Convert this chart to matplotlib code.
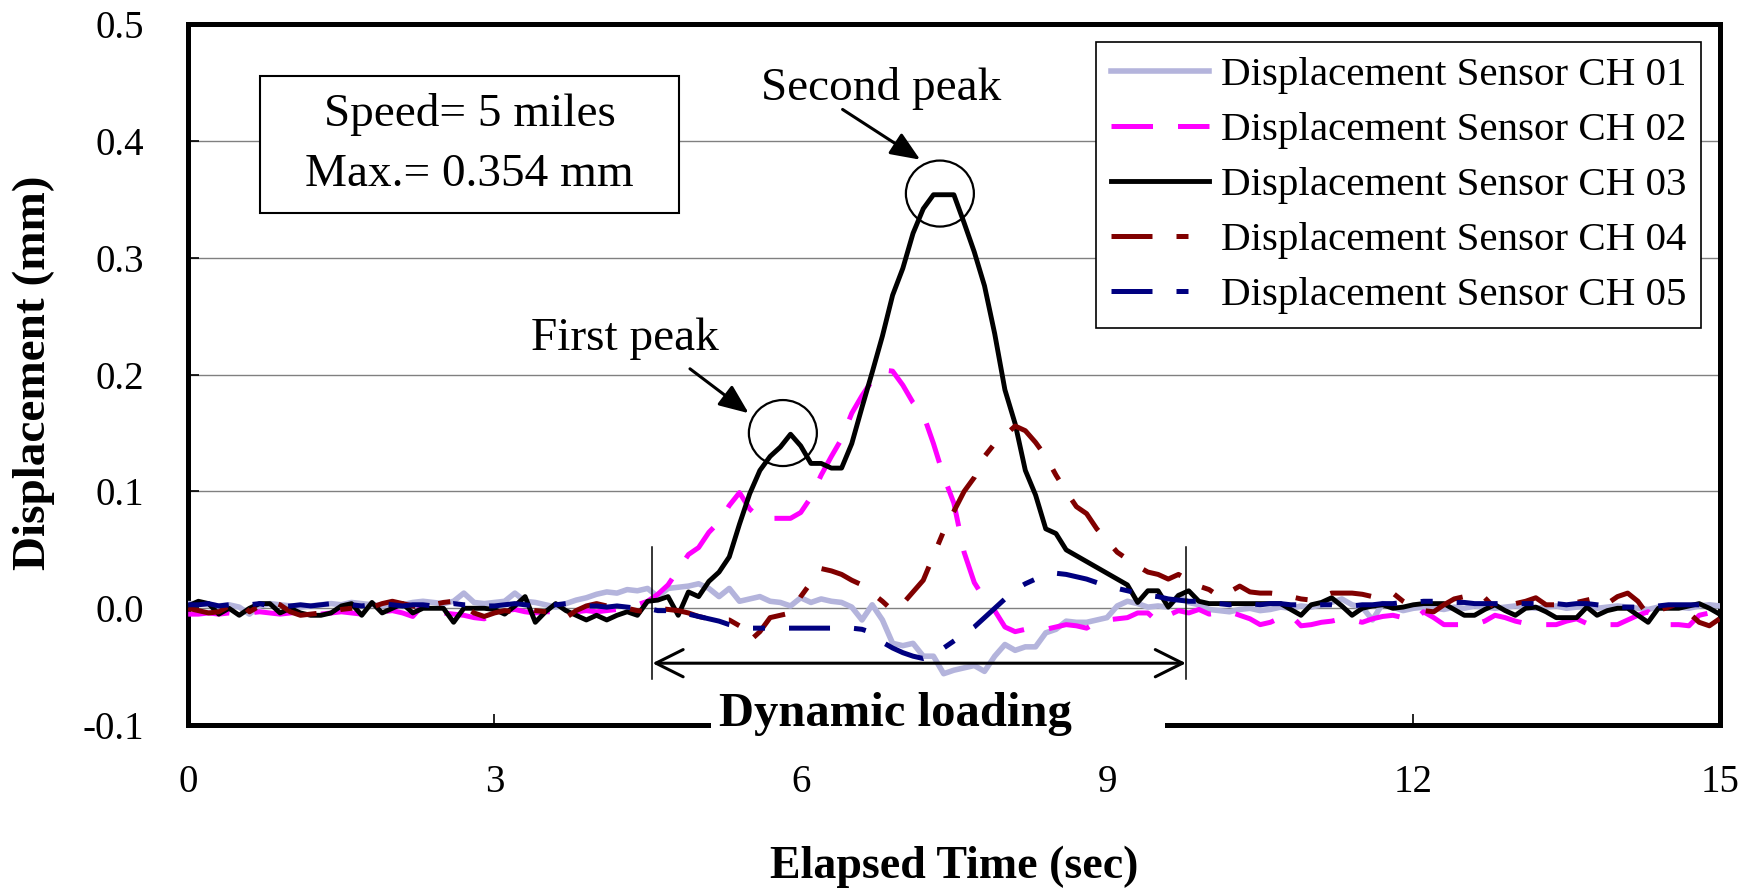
import matplotlib
matplotlib.use("Agg")
import matplotlib.pyplot as plt
import numpy as np
from matplotlib.patches import Rectangle, Ellipse

plt.rcParams["font.family"] = ["Liberation Serif", "DejaVu Serif"]

# ---- data (displacement in mm, sampled every 0.1 s from t = 0 to 15 s) ----
dt = 0.1

ch01 = [
    0.004, 0.004, 0.003, 0.002, 0.003, 0.001, -0.005, 0.002, 0.004, 0.003,
    0.002, 0.001, 0.002, 0.003, 0.004, 0.003, 0.005, 0.004, 0.003, 0.002,
    0.004, 0.003, 0.005, 0.006, 0.005, 0.004, 0.006, 0.013, 0.005, 0.004,
    0.005, 0.006, 0.013, 0.006, 0.005, 0.003, 0.001, 0.004, 0.007, 0.009,
    0.012, 0.014, 0.013, 0.016, 0.015, 0.017, 0.010, 0.017, 0.018, 0.019,
    0.021, 0.017, 0.010, 0.017, 0.006, 0.008, 0.010, 0.006, 0.005, 0.002,
    0.009, 0.005, 0.008, 0.006, 0.005, 0.001, -0.010, 0.003, -0.010, -0.030,
    -0.032, -0.030, -0.041, -0.041, -0.056, -0.053, -0.051, -0.049, -0.054, -0.041,
    -0.031, -0.036, -0.033, -0.033, -0.021, -0.018, -0.011, -0.012, -0.012, -0.010,
    -0.008, 0.002, 0.006, 0.004, 0.001, 0.002, 0.001, 0.011, 0.005, 0.003,
    -0.001, -0.002, -0.003, -0.001, 0.000, -0.002, -0.001, 0.001, 0.000, 0.002,
    0.001, 0.003, 0.005, 0.008, 0.003, 0.001, -0.010, 0.004, 0.001, -0.002,
    0.000, 0.001, 0.000, -0.001, 0.001, 0.000, 0.002, 0.001, 0.000, 0.001,
    0.002, 0.001, 0.000, 0.001, 0.002, 0.000, 0.001, 0.002, 0.000, 0.001,
    0.002, 0.001, 0.000, -0.001, 0.001, 0.002, 0.001, 0.000, 0.002, 0.003,
    0.002,
]

ch02 = [
    -0.005, -0.005, -0.004, -0.005, -0.004, -0.005, -0.004, -0.003, -0.004, -0.005,
    -0.004, -0.003, -0.004, -0.005, -0.004, -0.003, -0.004, -0.005, -0.004, -0.003,
    -0.002, -0.004, -0.007, 0.003, -0.003, -0.004, -0.005, -0.006, -0.008, -0.009,
    -0.004, -0.002, -0.001, -0.003, -0.004, -0.003, -0.003, -0.004, -0.003, -0.002,
    -0.003, -0.002, -0.001, 0.000, 0.003, 0.006, 0.012, 0.020, 0.033, 0.046,
    0.052, 0.065, 0.074, 0.088, 0.099, 0.085, 0.077, 0.077, 0.077, 0.077,
    0.082, 0.095, 0.114, 0.130, 0.145, 0.167, 0.182, 0.195, 0.204, 0.203,
    0.191, 0.176, 0.166, 0.141, 0.113, 0.090, 0.048, 0.022, 0.008, -0.002,
    -0.016, -0.020, -0.018, -0.018, -0.018, -0.016, -0.014, -0.015, -0.017, -0.012,
    -0.010, -0.009, -0.008, -0.004, -0.004, -0.012, -0.006, -0.002, -0.004, -0.001,
    -0.005, -0.004, -0.003, -0.006, -0.009, -0.014, -0.012, -0.008, -0.006, -0.015,
    -0.014, -0.012, -0.011, -0.009, -0.010, -0.012, -0.009, -0.007, -0.006, -0.008,
    -0.011, -0.003, -0.008, -0.014, -0.014, -0.014, -0.014, -0.011, -0.006, -0.008,
    -0.011, -0.013, -0.014, -0.014, -0.014, -0.011, -0.009, -0.013, -0.015, -0.014,
    -0.014, -0.010, -0.006, -0.003, -0.009, -0.014, -0.014, -0.015, -0.006, -0.004,
    -0.003,
]

ch03 = [
    0.002, 0.006, 0.004, -0.005, 0.000, -0.006, 0.000, 0.004, 0.004, -0.004,
    0.000, -0.004, -0.006, -0.006, -0.004, 0.002, 0.004, -0.006, 0.005, -0.004,
    0.000, 0.004, -0.004, 0.000, 0.000, 0.000, -0.012, 0.000, 0.000, 0.000,
    -0.001, -0.005, 0.002, 0.010, -0.012, -0.003, 0.004, -0.002, -0.006, -0.010,
    -0.006, -0.010, -0.006, -0.003, -0.006, 0.006, 0.007, 0.010, -0.006, 0.014,
    0.010, 0.023, 0.031, 0.044, 0.072, 0.098, 0.118, 0.130, 0.138, 0.149,
    0.139, 0.124, 0.124, 0.120, 0.120, 0.141, 0.172, 0.202, 0.233, 0.268,
    0.291, 0.321, 0.342, 0.354, 0.354, 0.354, 0.330, 0.305, 0.276, 0.235,
    0.187, 0.158, 0.118, 0.097, 0.068, 0.064, 0.050, 0.045, 0.040, 0.035,
    0.030, 0.025, 0.020, 0.005, 0.015, 0.015, 0.001, 0.011, 0.015, 0.006,
    0.004, 0.004, 0.004, 0.004, 0.004, 0.004, 0.004, 0.004, -0.001, -0.006,
    0.003, 0.005, 0.009, 0.002, -0.006, 0.000, 0.002, 0.003, 0.000, 0.001,
    0.003, 0.004, 0.004, 0.004, -0.001, -0.006, -0.006, -0.001, 0.003, -0.002,
    -0.006, 0.000, 0.001, -0.003, -0.008, -0.008, -0.008, 0.001, -0.006, -0.002,
    0.000, 0.000, -0.006, -0.012, 0.000, 0.000, 0.000, 0.002, 0.004, 0.000,
    -0.005,
]

ch04 = [
    0.000, -0.002, -0.004, -0.003, 0.002, 0.006, -0.003, 0.002, 0.006, 0.003,
    -0.003, -0.006, -0.005, -0.004, -0.003, -0.001, 0.000, 0.002, 0.001, 0.004,
    0.006, 0.004, 0.002, 0.000, 0.003, 0.005, 0.006, 0.002, -0.004, -0.007,
    -0.004, -0.002, -0.003, -0.001, -0.002, -0.003, -0.004, -0.008, -0.002, 0.002,
    0.004, 0.002, 0.000, 0.000, -0.002, -0.003, 0.000, -0.001, -0.002, -0.004,
    -0.007, -0.009, -0.010, -0.010, -0.015, -0.028, -0.020, -0.008, -0.006, -0.004,
    0.010, 0.022, 0.034, 0.032, 0.029, 0.024, 0.020, 0.013, 0.006, -0.002,
    0.004, 0.014, 0.024, 0.045, 0.066, 0.083, 0.100, 0.112, 0.130, 0.141,
    0.148, 0.156, 0.152, 0.142, 0.130, 0.114, 0.100, 0.087, 0.081, 0.068,
    0.058, 0.048, 0.042, 0.036, 0.031, 0.029, 0.025, 0.029, 0.024, 0.019,
    0.016, 0.010, 0.014, 0.019, 0.014, 0.013, 0.013, 0.012, 0.010, 0.008,
    0.007, 0.010, 0.013, 0.013, 0.013, 0.012, 0.010, 0.012, 0.013, 0.006,
    0.001, -0.002, -0.003, 0.003, 0.008, 0.010, 0.006, 0.009, 0.000, 0.002,
    0.004, 0.006, 0.009, 0.003, 0.003, 0.003, 0.005, 0.007, 0.009, 0.004,
    0.010, 0.013, 0.006, -0.006, -0.002, 0.001, 0.004, -0.004, -0.012, -0.015,
    -0.009,
]

ch05 = [
    0.003, 0.003, 0.004, 0.002, 0.003, 0.002, 0.003, 0.004, 0.002, 0.001,
    0.002, 0.003, 0.002, 0.003, 0.004, 0.003, 0.003, 0.002, 0.003, 0.004,
    0.003, 0.002, 0.003, 0.003, 0.002, 0.003, 0.004, 0.003, 0.003, 0.002,
    0.002, 0.003, 0.004, 0.003, 0.002, 0.003, 0.003, 0.004, 0.003, 0.002,
    0.002, 0.001, 0.002, 0.001, 0.000, 0.000, -0.002, -0.002, -0.003, -0.005,
    -0.007, -0.009, -0.011, -0.014, -0.016, -0.017, -0.017, -0.017, -0.017, -0.017,
    -0.017, -0.017, -0.017, -0.017, -0.017, -0.017, -0.018, -0.021, -0.029, -0.034,
    -0.038, -0.041, -0.043, -0.040, -0.034, -0.028, -0.022, -0.016, -0.008, 0.000,
    0.008, 0.016, 0.021, 0.025, 0.028, 0.030, 0.029, 0.027, 0.025, 0.022,
    0.019, 0.017, 0.015, 0.013, 0.011, 0.010, 0.008, 0.007, 0.006, 0.006,
    0.004, 0.004, 0.003, 0.004, 0.004, 0.003, 0.004, 0.004, 0.003, 0.003,
    0.002, 0.003, 0.003, 0.002, 0.002, 0.003, 0.003, 0.004, 0.004, 0.005,
    0.005, 0.006, 0.006, 0.006, 0.005, 0.005, 0.004, 0.004, 0.004, 0.004,
    0.004, 0.004, 0.004, 0.004, 0.004, 0.003, 0.004, 0.004, 0.003, 0.002,
    0.001, 0.001, 0.001, 0.001, 0.002, 0.003, 0.003, 0.003, 0.003, 0.004,
    0.004,
]

labels = [f"Displacement Sensor CH 0{i}" for i in range(1, 6)]
colors = ["#B4B4DC", "#FF00FF", "#000000", "#800000", "#000080"]

x_ticks = [0, 3, 6, 9, 12, 15]
y_ticks = [-0.1, 0.0, 0.1, 0.2, 0.3, 0.4, 0.5]

time = np.arange(len(ch03)) * dt

fig = plt.figure(figsize=(17.57, 8.92), dpi=100)
ax = fig.add_axes([0.1071, 0.1871, 0.8716, 0.7858])

styles = [
    dict(lw=4.0, ls="-"),
    dict(lw=3.6, dashes=(8.3, 5.0)),
    dict(lw=3.5, ls="-"),
    dict(lw=3.6, dashes=(8.2, 4.8, 2.4, 4.8)),
    dict(lw=3.6, dashes=(8.2, 4.8, 2.4, 4.8)),
]
for data, lab, col, st in zip([ch01, ch02, ch03, ch04, ch05], labels, colors, styles):
    ax.plot(time, data, color=col, label=lab, zorder=3, **st)

ax.set_xlim(0, 15)
ax.set_ylim(-0.1, 0.5)
ax.set_xticks(x_ticks)
ax.set_yticks(y_ticks)
ax.set_yticklabels([f"{v:.1f}" for v in y_ticks])
ax.yaxis.grid(True, color="#808080", lw=1.0)
ax.set_axisbelow(True)
ax.tick_params(axis="both", direction="in", length=8, width=1.2, labelsize=28)
ax.tick_params(axis="x", pad=28)
ax.tick_params(axis="y", pad=32)
for sp in ax.spines.values():
    sp.set_linewidth(3.6)

ax.set_xlabel("Elapsed Time (sec)", fontsize=33, fontweight="bold")
ax.set_ylabel("Displacement (mm)", fontsize=34, fontweight="bold")
ax.xaxis.set_label_coords(0.5, -0.2015)
ax.xaxis.label.set_va("center")
ax.yaxis.set_label_coords(-0.1007, 0.503)
ax.yaxis.label.set_va("center")

# legend
leg = ax.legend(loc="upper right", bbox_to_anchor=(0.988, 0.974), fontsize=29.5,
                frameon=True, fancybox=False, edgecolor="black", framealpha=1,
                handlelength=2.4, handletextpad=0.3, labelspacing=0.42,
                borderpad=0.35, borderaxespad=0)
leg.get_frame().set_linewidth(1.2)

# info box
ax.add_patch(Rectangle((0.703, 0.338), 4.104, 0.118, facecolor="white",
                       edgecolor="black", lw=1.5, zorder=4))
ax.text(2.755, 0.397, "Speed= 5 miles\nMax.= 0.354 mm", fontsize=34,
        ha="center", va="center", linespacing=1.52, zorder=5)

# peak circles and labels
for cx, cy in [(5.825, 0.150), (7.363, 0.355)]:
    ax.add_patch(Ellipse((cx, cy), 0.666, 0.0565, fill=False, edgecolor="black",
                         lw=1.6, zorder=6))
head = dict(arrowstyle="-|>,head_length=0.6,head_width=0.25", color="black",
            lw=2.2, mutation_scale=30, shrinkA=0, shrinkB=0)
ax.annotate("", xy=(7.17, 0.384), xytext=(6.41, 0.427), arrowprops=head, zorder=6)
ax.annotate("", xy=(5.49, 0.167), xytext=(4.915, 0.205), arrowprops=head, zorder=6)
ax.text(6.79, 0.445, "Second peak", fontsize=34, ha="center", va="center", zorder=6)
ax.text(4.28, 0.231, "First peak", fontsize=34, ha="center", va="center", zorder=6)

# dynamic loading bracket
for xv in [4.548, 9.773]:
    ax.plot([xv, xv], [0.0526, -0.0606], color="black", lw=1.1, zorder=6)
ax.annotate("", xy=(4.548, -0.047), xytext=(9.773, -0.047),
            arrowprops=dict(arrowstyle="<->,head_length=0.7,head_width=0.35",
                            color="black", lw=2.2, mutation_scale=28,
                            shrinkA=0, shrinkB=0), zorder=6)
ax.add_patch(Rectangle((5.125, -0.106), 4.445, 0.0155, facecolor="white",
                       edgecolor="none", clip_on=False, zorder=7))
ax.text(6.925, -0.0906, "Dynamic loading", fontsize=35, fontweight="bold",
        ha="center", va="center", zorder=8, clip_on=False)

fig.savefig("out.png", dpi=100)
